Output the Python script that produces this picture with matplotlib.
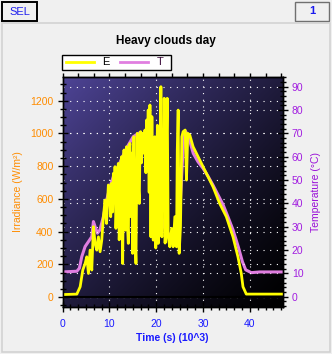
import numpy as np
import matplotlib.pyplot as plt
from matplotlib.patches import Rectangle
from matplotlib.lines import Line2D
from matplotlib.ticker import MultipleLocator, AutoMinorLocator

plt.rcParams['font.family'] = ['Liberation Sans', 'DejaVu Sans']

# irradiance trace E (time in 10^3 s, W/m^2)
time_e = [0.0, 3.06, 3.77, 4.33, 4.83, 5.18, 5.54, 5.89, 6.25, 6.60, 6.96, 7.31,
          7.67, 8.02, 8.38, 8.73, 9.08, 9.40, 9.79, 10.15, 10.29, 10.50, 10.70,
          10.86, 11.05, 11.21, 11.40, 11.57, 11.75, 11.92, 12.10, 12.28, 12.45,
          12.63, 12.84, 13.00, 13.13, 13.30, 13.41, 13.55, 13.69, 13.85, 14.05,
          14.20, 14.40, 14.62, 14.80, 14.97, 15.10, 15.25, 15.45, 15.68, 15.80,
          15.96, 16.15, 16.39, 16.55, 16.67, 16.85, 17.10, 17.30, 17.60, 17.80,
          17.95, 18.10, 18.30, 18.50, 18.66, 18.87, 19.08, 19.25, 19.37, 19.55,
          19.72, 19.90, 20.08, 20.25, 20.43, 20.60, 20.79, 21.00, 21.21, 21.35,
          21.50, 21.71, 21.90, 22.06, 22.20, 22.35, 22.56, 22.91, 23.30, 23.62,
          23.98, 24.33, 24.50, 24.69, 24.90, 25.18, 25.47, 25.75, 26.18, 26.46,
          26.74, 27.17, 27.88, 29.30, 30.71, 32.13, 33.55, 34.97, 36.39, 37.45,
          38.16, 38.52, 39.23, 47.0]
irradiance = [15, 18, 63, 165, 205, 246, 144, 287, 165, 430, 328, 287,
              368, 277, 348, 491, 593, 450, 685, 572, 491, 695, 520,
              756, 600, 797, 420, 552, 760, 817, 350, 470, 820,
              858, 205, 700, 899, 560, 409, 850, 919, 450, 328,
              900, 939, 491, 880, 267, 760, 980, 420, 205, 640,
              1001, 700, 572, 960, 1011, 820, 1001, 880, 1021, 760,
              1082, 900, 1143, 640, 1174, 368, 1103, 520, 348, 900,
              980, 300, 409, 1050, 328, 620, 776, 1286, 368, 1000,
              532, 1215, 330, 470, 980, 1215, 368, 307, 420, 307,
              491, 307, 900, 1143, 267, 430, 980, 1011, 1021, 715,
              1001, 990, 919, 837, 756, 674, 572, 491, 368, 246,
              144, 63, 18, 18]

# temperature trace T (time in 10^3 s, deg C)
time_t = [0.0, 3.06, 3.6, 4.12, 4.83, 5.54, 6.25, 6.6, 6.96, 7.45, 7.99, 8.73,
          9.44, 10.15, 10.86, 11.9, 13.0, 14.05, 15.1, 16.5, 17.6, 18.1, 18.4,
          18.8, 19.4, 20.1, 20.8, 21.5, 22.2, 23.3, 24.3, 25.0, 25.5, 25.9, 26.3,
          27.2, 27.9, 28.9, 30.0, 31.1, 32.1, 33.2, 34.3, 35.3, 36.4, 37.5, 38.4,
          39.1, 40.3, 42.1, 47.0]
temperature = [10.6, 10.9, 12.2, 17.2, 21.5, 23.6, 25.7, 32.2, 30.0, 27.2, 28.6, 34.3,
               41.5, 47.2, 51.5, 55.8, 60.8, 65.0, 68.6, 70.3, 69.3, 62.9, 57.9,
               60.0, 54.3, 42.9, 37.2, 31.5, 27.2, 26.5, 30.0, 34.3, 54.3, 69.3, 70.8,
               66.5, 61.5, 57.9, 55.0, 51.5, 47.9, 43.6, 39.3, 34.3, 28.6, 21.5, 15.0,
               11.5, 10.3, 10.6, 10.6]

W, H = 332, 354
fig = plt.figure(figsize=(W / 100, H / 100), dpi=100, facecolor='#f0f0f0')


def fx(x):
    return x / W


def fy(y):
    return 1 - y / H


def box(x0, y0, x1, y1, **kw):
    fig.patches.append(Rectangle((fx(x0), fy(y1)), fx(x1) - fx(x0), fy(y0) - fy(y1),
                                 transform=fig.transFigure, **kw))


# window chrome
box(2, 2, 37, 21, facecolor='#f0f0f0', edgecolor='black', lw=1.4)
fig.text(fx(19.5), fy(12), 'SEL', color='#2020ee', fontsize=8, ha='center', va='center')
box(295, 2, 329, 21, facecolor='#f0f0f0', edgecolor='#707070', lw=1.0)
fig.text(fx(312), fy(11.5), '1', color='#1a1aee', fontsize=8, fontweight='bold',
         ha='center', va='center')
box(2, 23, 330, 352, facecolor='none', edgecolor='#d2d2d2', lw=1.2)

left, right, top, bottom = 62.5, 282.7, 76.7, 306.7
pos = [fx(left), fy(bottom), (right - left) / W, (bottom - top) / H]

# diagonal gradient background
bg = fig.add_axes(pos, zorder=-5)
u = np.linspace(0, 1, 200)
gx, gy = np.meshgrid(u, u)
t = (gx + gy) / 2
c0 = np.array([78, 68, 150]) / 255.0
grad = c0[None, None, :] * ((1 - t) ** 1.3)[:, :, None]
bg.imshow(grad, extent=[0, 1, 0, 1], aspect='auto', origin='upper')
bg.axis('off')

ax = fig.add_axes(pos)
ax2 = ax.twinx()
ax.set_zorder(ax2.get_zorder() + 1)
ax.patch.set_visible(False)
ax2.patch.set_visible(False)

dots = (0, (1, 5))
ax2.plot(time_t, temperature, color='#e07ee0', lw=2.2, solid_joinstyle='round')
ax.plot(time_e, irradiance, color='#ffff00', lw=2.0, solid_joinstyle='round')
ax.axhline(0, color='black', lw=1.5)

ax.set_xlim(0, 47)
ax.set_ylim(-59, 1347)
ax2.set_ylim(-4.3, 94.3)

ax.xaxis.set_major_locator(MultipleLocator(10))
ax.xaxis.set_minor_locator(AutoMinorLocator(6))
ax.yaxis.set_major_locator(MultipleLocator(200))
ax.yaxis.set_minor_locator(MultipleLocator(50))
ax2.yaxis.set_major_locator(MultipleLocator(10))
ax2.yaxis.set_minor_locator(MultipleLocator(2))

ax.grid(True, which='major', axis='both', color='white', linestyle=dots, lw=0.8)
ax2.grid(True, which='major', axis='y', color='white', linestyle=dots, lw=0.8)

for a in (ax, ax2):
    for s in a.spines.values():
        s.set_color('black')
        s.set_linewidth(1.0)

ax.tick_params(axis='both', which='major', direction='inout', length=7, width=1.0,
               labelsize=7.5)
ax.tick_params(axis='both', which='minor', direction='inout', length=4, width=1.0)
ax.tick_params(axis='y', labelcolor='#ff8c00', pad=3)
ax.tick_params(axis='x', labelcolor='#1a1aff', pad=5)
ax2.tick_params(axis='y', which='major', direction='inout', length=7, width=1.0,
                labelsize=7.5, labelcolor='#a21ee0', pad=3)
ax2.tick_params(axis='y', which='minor', direction='inout', length=4, width=1.0)

top_ax = ax.secondary_xaxis('top')
top_ax.xaxis.set_major_locator(MultipleLocator(10 / 3))
top_ax.tick_params(direction='out', length=3, width=1.0, labeltop=False)

# axis labels
fig.text(fx(18), fy(191.7), 'Irradiance (W/m²)', color='#ff8c00', fontsize=7.5,
         rotation=90, ha='center', va='center')
fig.text(fx(316), fy(191.7), 'Temperature (°C)', color='#9a10d8', fontsize=7.5,
         rotation=90, ha='center', va='center')
fig.text(fx(172.5), fy(337.7), 'Time (s) (10^3)', color='#1a1aff', fontsize=7.5,
         fontweight='bold', ha='center', va='center')

fig.text(fx(166), fy(41), 'Heavy clouds day', fontsize=8.5, fontweight='bold',
         ha='center', va='center')

# legend
box(62, 55, 171, 70, facecolor='white', edgecolor='black', lw=1.0)
fig.lines.append(Line2D([fx(66), fx(94)], [fy(61.5), fy(61.5)], color='#ffff00', lw=2,
                        transform=fig.transFigure))
fig.text(fx(106), fy(62), 'E', fontsize=8, ha='center', va='center')
fig.lines.append(Line2D([fx(120), fx(148)], [fy(61.5), fy(61.5)], color='#e07ee0', lw=2,
                        transform=fig.transFigure))
fig.text(fx(160.5), fy(62), 'T', fontsize=8, color='#3a0a3a', ha='center', va='center')

fig.savefig('out.png', dpi=100, facecolor=fig.get_facecolor())
